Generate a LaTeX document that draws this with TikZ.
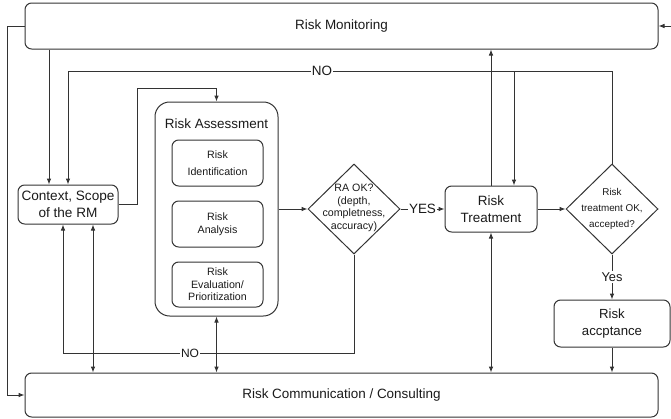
\documentclass[tikz,border=0pt]{standalone}
\usepackage{fontspec}
\setmainfont{Liberation Sans}
\usetikzlibrary{arrows.meta,shapes.geometric}
\definecolor{ln}{HTML}{333333}
\definecolor{tx}{HTML}{1A1A1A}
\begin{document}
\begin{tikzpicture}[x=0.75pt,y=-0.75pt,line width=0.75pt,
  box/.style={draw=ln, rounded corners=5pt, align=center, inner sep=0pt, text=tx},
  dia/.style={draw=ln, diamond, inner sep=0pt, minimum width=69pt, minimum height=67.5pt},
  txt/.style={align=center, inner sep=0pt, text=tx},
  lbl/.style={fill=white, inner sep=1pt, text=tx},
  arr/.style={draw=ln, -{Latex[length=4.5pt,width=3.5pt]}},
  darr/.style={draw=ln, {Latex[length=4.5pt,width=3.5pt]}-{Latex[length=4.5pt,width=3.5pt]}},
  big/.style={font=\fontsize{10.1}{12.5}\selectfont},
  small/.style={font=\fontsize{8}{12.5}\selectfont}
]
\useasboundingbox (0,0) rectangle (671,418);

% nodes
\node[box, big, minimum width=474.75pt, minimum height=34.5pt] (mon) at (341.5,26) {Risk Monitoring};
\node[box, big, minimum width=474.75pt, minimum height=33pt] (com) at (341.5,395) {Risk Communication / Consulting};
\node[box, font=\fontsize{10.2}{12.75}\selectfont, minimum width=75pt, minimum height=29.25pt] (ctx) at (68,204.5) {Context, Scope\\of the RM};
\node[box, rounded corners=11pt, minimum width=92.25pt, minimum height=160.5pt] (ra) at (216.5,209) {};
\node[txt, big] (rat) at (216.5,124) {Risk Assessment};
\node[box, small, minimum width=68.25pt, minimum height=34.5pt] (id) at (217.5,163) {Risk\\Identification};
\node[box, font=\fontsize{8}{10}\selectfont, minimum width=68.25pt, minimum height=34.5pt] (an) at (217.5,224) {Risk\\Analysis};
\node[box, font=\fontsize{8}{9.5}\selectfont, minimum width=68.25pt, minimum height=33.75pt] (ev) at (217.5,284.5) {Risk\\Evaluation/\\Prioritization};
\node[dia] (d1) at (354,209) {};
\node[txt, font=\fontsize{8}{9.4}\selectfont] (d1t) at (354,208) {RA OK?\\(depth,\\completness,\\accuracy)};
\node[box, big, minimum width=69pt, minimum height=34.5pt] (rt) at (491,209) {Risk\\Treatment};
\node[dia] (d2) at (612,209) {};
\node[txt, font=\fontsize{7.4}{12}\selectfont] (d2t) at (612,209) {Risk\\treatment OK,\\accepted?};
\node[box, font=\fontsize{9.9}{13}\selectfont, minimum width=87pt, minimum height=35.25pt] (acc) at (612,323.5) {Risk\\accptance};

% helper coordinates
\coordinate (ny) at (0,71);
\coordinate (xb) at (514,0);
\coordinate (x49) at (49,0);
\coordinate (x93) at (93,0);
\coordinate (k1) at (137,88);
\coordinate (k2) at (63,353);
\coordinate (r1) at (671,26);
\coordinate (lx) at (7,26);

% connectors
\draw[arr] (r1) -- (mon.east);
\draw[arr] (mon.west) -- (lx) |- (com.west);
\draw[arr] (x49 |- mon.south) -- (x49 |- ctx.north);
\draw[arr] (d2.north) |- (ctx.north |- ny) -- (ctx.north);
\draw[arr] (xb |- ny) -- (xb |- rt.north);
\draw[arr] (rt.north) -- (rt.north |- mon.south);
\draw[arr] (ctx.east) -| (k1) -- (ra.north |- k1) -- (ra.north);
\draw[arr] (ra.east |- d1.west) -- (d1.west);
\draw[arr] (d1.east) -- node[lbl, big] (yes) {YES} (rt.west);
\draw[arr] (rt.east) -- (d2.west);
\draw[arr] (d2.south) -- node[lbl, font=\fontsize{9.6}{12}\selectfont] (yes2) {Yes} (acc.north);
\draw[arr] (acc.south) -- (acc.south |- com.north);
\draw[arr] (d1.south) |- (k2) -- (k2 |- ctx.south);
\draw[darr] (x93 |- ctx.south) -- (x93 |- com.north);
\draw[darr] (ra.south) -- (ra.south |- com.north);
\draw[darr] (rt.south) -- (rt.south |- com.north);

% labels on lines
\node[lbl, big] (no1) at (322,71) {NO};
\node[lbl, font=\fontsize{9}{11}\selectfont] (no2) at (190,353) {NO};
\end{tikzpicture}
\end{document}
